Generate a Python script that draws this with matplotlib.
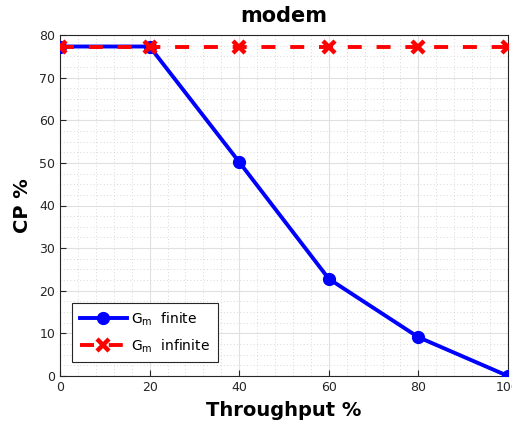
import matplotlib.pyplot as plt
from matplotlib.ticker import MultipleLocator

# dados
throughput = [0, 20, 40, 60, 80, 100]
cp_finite = [77.3, 77.3, 50.2, 22.8, 9.1, 0.0]
cp_infinite = [77.3, 77.3, 77.3, 77.3, 77.3, 77.3]

fig = plt.figure(figsize=(5.12, 4.28), dpi=100)
ax = fig.add_axes([60/512, 1 - 376/428, 448/512, 341/428])

ax.plot(throughput, cp_finite, color="blue", lw=2.8, marker="o", ms=8.5, label=r"G$_{\rm m}$  finite", zorder=3)
ax.plot(throughput, cp_infinite, color="red", lw=2.8, ls=(0, (3.6, 3.8)), marker="x", ms=8.5, mew=3.2,
        label=r"G$_{\rm m}$  infinite", zorder=4)

ax.set_xlim(0, 100)
ax.set_ylim(0, 80)
ax.set_xticks(throughput)
ax.set_yticks(range(0, 81, 10))
ax.xaxis.set_minor_locator(MultipleLocator(4))
ax.yaxis.set_minor_locator(MultipleLocator(2.5))
ax.grid(which="major", color="#e0e0e0", lw=0.8)
ax.grid(which="minor", color="#cccccc", lw=0.6, ls=(0, (1, 3)))
ax.tick_params(which="minor", length=0)
ax.tick_params(which="major", direction="in", labelsize=9, colors="#262626", length=4)
for s in ax.spines.values():
    s.set_color("#262626")

ax.set_title("modem", fontsize=15, fontweight="bold", pad=9)
ax.set_xlabel("Throughput %", fontsize=14, fontweight="bold", labelpad=5)
ax.set_ylabel("CP %", fontsize=14, fontweight="bold", labelpad=5)

leg = ax.legend(loc="lower left", bbox_to_anchor=(0.027, 0.04), fontsize=10, handlelength=3.4,
                fancybox=False, edgecolor="#262626", framealpha=1, borderpad=0.55, labelspacing=0.7,
                handletextpad=0.3, borderaxespad=0)
leg.get_frame().set_linewidth(0.8)

plt.savefig("out.png", dpi=100)
